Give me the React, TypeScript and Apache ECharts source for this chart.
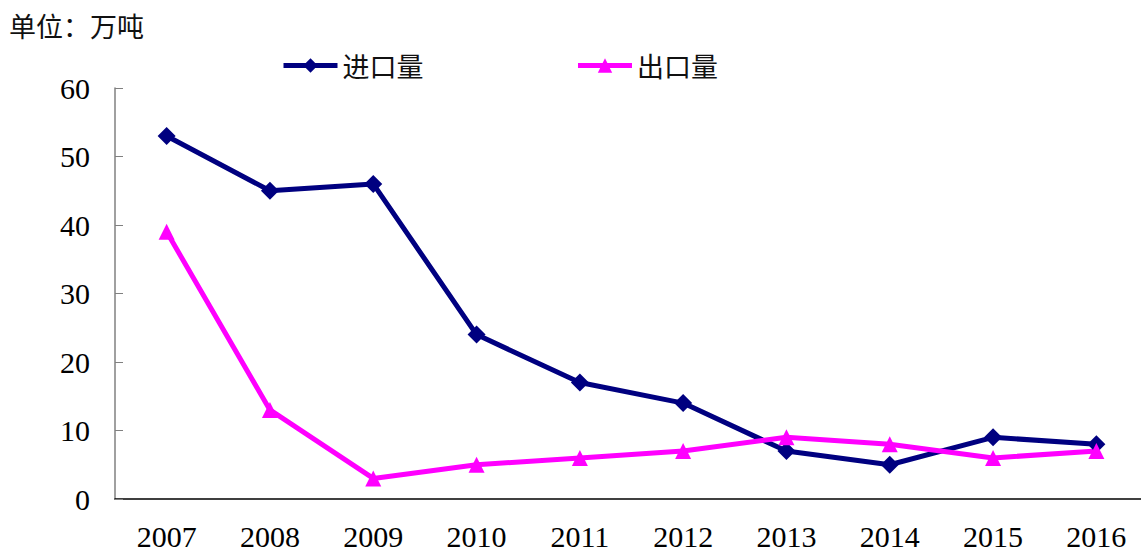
import React, { useEffect, useRef } from "react";
import * as echarts from "echarts";

const years = ["2007", "2008", "2009", "2010", "2011", "2012", "2013", "2014", "2015", "2016"];
const importVol = [53, 45, 46, 24, 17, 14, 7, 5, 9, 8];
const exportVol = [39, 13, 3, 5, 6, 7, 9, 8, 6, 7];
const unitLabel = "单位：万吨";
const importName = "进口量";
const exportName = "出口量";

const numFont = "'Liberation Serif', 'DejaVu Serif', serif";
const cjkFont = "'Noto Sans CJK SC', 'Noto Sans', sans-serif";

export default function App() {
  const ref = useRef<HTMLDivElement>(null);
  useEffect(() => {
    const chart = echarts.init(ref.current!, null, { renderer: "svg" });
    chart.setOption({
      animation: false,
      backgroundColor: "#ffffff",
      title: {
        text: unitLabel,
        left: 9,
        top: 12,
        padding: 0,
        textStyle: { fontFamily: cjkFont, fontSize: 27, fontWeight: "normal", color: "#111" },
      },
      legend: {
        left: 281,
        top: 52,
        padding: 0,
        itemWidth: 54,
        itemHeight: 18,
        itemGap: 152,
        lineStyle: { width: 5 },
        textStyle: { fontFamily: cjkFont, fontSize: 27, color: "#111" },
        data: [importName, exportName],
      },
      grid: { left: 115, top: 88, width: 1033, height: 411, containLabel: false },
      xAxis: {
        type: "category",
        data: years,
        boundaryGap: true,
        axisLine: { lineStyle: { color: "#000", width: 1.5 } },
        axisTick: { inside: true, length: 9, lineStyle: { color: "#000" } },
        axisLabel: { fontFamily: numFont, fontSize: 30, color: "#000", margin: 22 },
      },
      yAxis: {
        type: "value",
        min: 0,
        max: 60,
        interval: 10,
        splitLine: { show: false },
        axisLine: { show: true, lineStyle: { color: "#808080", width: 1.5 } },
        axisTick: { show: true, inside: true, length: 8, lineStyle: { color: "#808080" } },
        axisLabel: { fontFamily: numFont, fontSize: 30, color: "#000", margin: 25 },
      },
      series: [
        {
          name: importName,
          type: "line",
          data: importVol,
          symbol: "diamond",
          symbolSize: 18,
          lineStyle: { color: "#000080", width: 5 },
          itemStyle: { color: "#000080" },
        },
        {
          name: exportName,
          type: "line",
          data: exportVol,
          symbol: "triangle",
          symbolSize: 16,
          lineStyle: { color: "#FF00FF", width: 5 },
          itemStyle: { color: "#FF00FF" },
        },
      ],
    });
    return () => chart.dispose();
  }, []);
  return (
    <div
      style={{ position: "fixed", left: 0, top: 0, width: 1141, height: 553, overflow: "hidden" }}
    >
      <div ref={ref} style={{ width: 1160, height: 553 }} />
    </div>
  );
}
